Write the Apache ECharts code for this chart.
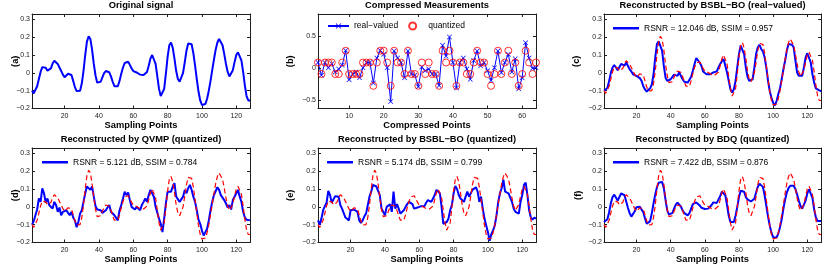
<!DOCTYPE html>
<html><head><meta charset="utf-8">
<script src="https://cdn.jsdelivr.net/npm/echarts@6/dist/echarts.min.js"></script>
<style>html,body{margin:0;padding:0;background:#fff}#c{width:822px;height:265px}</style>
</head><body><div id="c"></div>
<script>
// ---------------- data ----------------
const origSignal = [-0.10,-0.115,-0.105,-0.075,-0.035,0.005,0.032,0.038,0.028,0.012,
 0.010,0.025,0.052,0.068,0.066,0.050,0.030,0.010,-0.010,-0.025,
 -0.020,-0.005,0.000,-0.012,-0.045,-0.080,-0.102,-0.108,-0.100,-0.060,
 0.010,0.100,0.175,0.205,0.190,0.130,0.050,-0.015,-0.055,-0.063,
 -0.050,-0.025,-0.002,0.010,0.012,0.003,-0.020,-0.050,-0.075,-0.085,
 -0.075,-0.045,-0.005,0.030,0.055,0.065,0.062,0.045,0.025,0.010,
 0.005,0.002,-0.005,-0.010,-0.012,-0.012,-0.010,0.005,0.040,0.080,
 0.100,0.095,0.050,-0.020,-0.090,-0.130,-0.135,-0.090,-0.005,0.090,
 0.155,0.170,0.140,0.080,0.010,-0.035,-0.050,-0.040,0.000,0.060,
 0.125,0.165,0.175,0.160,0.110,0.040,-0.035,-0.105,-0.155,-0.180,
 -0.185,-0.175,-0.145,-0.100,-0.045,0.015,0.075,0.130,0.170,0.190,
 0.185,0.155,0.105,0.050,0.005,-0.020,-0.015,0.015,0.060,0.100,
 0.115,0.110,0.070,0.005,-0.070,-0.130,-0.155,-0.155];

const measReal = [0.09,-0.11,0.09,0.01,0.07,-0.06,-0.01,0.05,0.28,-0.18,
 -0.09,-0.06,-0.15,0.01,0.09,0.09,-0.23,0.16,0.28,0.22,
 0.01,-0.52,0.27,0.16,0.09,-0.15,0.27,-0.09,-0.11,-0.29,
 0.02,-0.04,-0.01,-0.09,-0.09,-0.27,0.36,0.19,0.49,0.09,
 -0.31,0.09,0.16,-0.01,-0.17,0.12,0.27,0.04,0.09,-0.04,
 -0.19,0.01,0.27,-0.07,0.09,0.22,-0.06,0.15,-0.32,-0.15,
 0.40,0.16,0.00,0.01];

const measQuant = [0.09,-0.09,0.09,0.09,0.09,-0.09,-0.09,0.09,0.275,-0.09,
 -0.09,-0.09,-0.09,0.09,0.09,0.09,-0.275,0.09,0.275,0.275,
 0.09,-0.275,0.275,0.09,0.09,-0.09,0.275,-0.09,-0.09,-0.275,
 0.09,-0.09,0.09,-0.09,-0.09,-0.275,0.275,0.09,0.275,0.09,
 -0.275,0.09,0.09,-0.09,-0.09,0.09,0.275,0.09,0.09,-0.09,
 -0.275,-0.09,0.275,-0.09,0.09,0.275,-0.09,0.09,-0.275,-0.09,
 0.275,0.09,-0.09,0.09];

const recBsblReal = [-0.100,-0.110,-0.085,-0.045,0.000,0.030,0.043,0.030,0.015,0.020,
 0.050,0.052,0.040,0.058,0.050,0.020,0.008,-0.008,-0.012,-0.017,
 -0.027,-0.030,-0.045,-0.075,-0.093,-0.105,-0.098,-0.087,-0.065,-0.008,
 0.087,0.162,0.177,0.166,0.125,0.040,-0.027,-0.045,-0.042,-0.036,
 -0.030,-0.010,-0.004,-0.017,0.002,-0.008,-0.036,-0.050,-0.055,-0.055,
 -0.045,-0.022,0.012,0.050,0.083,0.077,0.058,0.040,0.008,0.002,
 -0.008,-0.011,-0.008,-0.008,0.002,0.006,0.008,0.030,0.050,0.065,
 0.077,0.072,0.002,-0.045,-0.092,-0.110,-0.092,-0.045,0.030,0.105,
 0.153,0.153,0.105,0.030,-0.022,-0.045,-0.049,-0.036,0.030,0.105,
 0.143,0.157,0.134,0.120,0.087,0.030,-0.045,-0.102,-0.140,-0.168,
 -0.183,-0.158,-0.120,-0.087,-0.036,0.020,0.068,0.125,0.162,0.162,
 0.158,0.143,0.072,0.002,-0.017,-0.022,-0.017,0.030,0.087,0.110,
 0.100,0.058,-0.008,-0.055,-0.087,-0.087,-0.098,-0.105];

const recQvmp = [-0.100,-0.080,-0.047,-0.015,0.047,0.028,0.104,0.076,0.023,0.047,
 0.010,0.019,-0.010,0.028,0.010,-0.028,-0.004,-0.047,-0.028,-0.038,
 -0.019,-0.034,-0.047,-0.028,-0.060,-0.076,-0.114,-0.085,-0.038,-0.019,
 0.028,0.076,0.114,0.123,0.095,0.114,0.057,0.004,-0.015,-0.019,
 -0.019,-0.034,-0.038,-0.019,-0.004,0.010,-0.028,-0.038,-0.047,-0.053,
 -0.076,-0.019,0.010,0.047,0.085,0.066,0.080,0.038,0.000,0.010,
 -0.015,0.000,0.004,-0.019,0.010,0.028,0.047,0.028,0.066,0.095,
 0.104,0.057,0.000,-0.010,-0.066,-0.095,-0.142,-0.066,0.019,0.085,
 0.095,0.085,0.114,0.133,0.057,0.047,0.028,0.019,0.057,0.095,
 0.076,0.104,0.123,0.095,0.057,0.028,-0.019,-0.072,-0.095,-0.133,
 -0.161,-0.142,-0.123,-0.076,-0.019,0.028,0.066,0.076,0.110,0.095,
 0.066,0.076,0.038,0.019,-0.004,0.010,-0.015,0.038,0.057,0.076,
 0.095,0.057,0.028,-0.028,-0.060,-0.072,-0.080,-0.076];

const recBsblQuant = [-0.076,-0.100,-0.066,-0.019,0.004,0.023,0.090,0.066,0.023,0.019,
 0.060,0.064,0.057,0.010,-0.010,0.000,-0.060,-0.053,-0.076,-0.019,
 -0.010,-0.015,-0.015,-0.028,-0.076,-0.090,-0.076,-0.053,-0.038,-0.028,
 0.057,0.085,0.123,0.123,0.114,0.117,0.066,-0.010,-0.028,-0.047,
 0.000,-0.010,0.015,-0.028,0.085,-0.010,0.015,-0.010,-0.038,-0.038,
 -0.019,0.000,0.015,0.028,0.028,0.015,-0.010,-0.019,-0.004,0.000,
 0.004,0.000,0.004,0.023,0.038,0.034,0.028,0.047,0.066,0.095,
 0.104,0.076,0.000,-0.095,-0.100,-0.085,-0.066,-0.019,0.010,0.076,
 0.117,0.100,0.066,0.047,0.057,0.028,0.057,0.085,0.057,0.066,
 0.095,0.095,0.110,0.085,0.028,0.057,-0.010,-0.066,-0.104,-0.142,
 -0.190,-0.152,-0.133,-0.104,-0.047,0.028,0.076,0.104,0.152,0.085,
 0.095,0.076,0.085,0.028,-0.010,-0.028,-0.019,-0.038,0.028,0.066,
 0.123,0.136,0.066,-0.019,-0.060,-0.072,-0.060,-0.066];

const recBdq = [-0.085,-0.090,-0.070,-0.030,0.020,0.055,0.068,0.060,0.035,0.045,
 0.075,0.082,0.065,0.030,-0.005,-0.035,-0.055,-0.050,-0.025,-0.002,
 0.003,0.000,-0.008,-0.030,-0.065,-0.095,-0.105,-0.080,-0.035,0.020,
 0.070,0.110,0.135,0.145,0.140,0.105,0.040,-0.020,-0.042,-0.045,
 -0.035,-0.010,0.012,0.024,0.020,0.002,-0.020,-0.035,-0.045,-0.048,
 -0.035,-0.010,0.015,0.025,0.025,0.020,0.008,-0.005,-0.012,-0.012,
 -0.010,-0.010,-0.005,0.010,0.025,0.025,0.022,0.030,0.060,0.085,
 0.090,0.065,0.010,-0.050,-0.085,-0.095,-0.085,-0.050,0.000,0.055,
 0.090,0.100,0.085,0.055,0.042,0.040,0.030,0.035,0.045,0.080,
 0.112,0.130,0.135,0.112,0.065,0.005,-0.055,-0.105,-0.145,-0.170,
 -0.180,-0.172,-0.150,-0.115,-0.070,-0.010,0.040,0.080,0.105,0.118,
 0.122,0.118,0.100,0.070,0.035,0.005,-0.010,0.000,0.035,0.075,
 0.098,0.095,0.050,-0.015,-0.060,-0.080,-0.082,-0.080];

const titles = ['Original signal','Compressed Measurements','Reconstructed by BSBL\u2212BO (real\u2212valued)',
  'Reconstructed by QVMP (quantized)','Reconstructed by BSBL\u2212BO (quantized)','Reconstructed by BDQ (quantized)'];
const panelLabels = ['(a)','(b)','(c)','(d)','(e)','(f)'];
const xNames = ['Sampling Points','Compressed Points','Sampling Points','Sampling Points','Sampling Points','Sampling Points'];
const legendNames = ['RSNR = 12.046 dB, SSIM = 0.957','RSNR = 5.121 dB, SSIM = 0.784',
  'RSNR = 5.174 dB, SSIM = 0.799','RSNR = 7.422 dB, SSIM = 0.876'];
const measLegend = ['real\u2212valued','quantized'];
const xTicksSignal = [20,40,60,80,100,120];
const xTicksMeas = [10,20,30,40,50,60];
const yTicksSignal = [-0.2,-0.1,0,0.1,0.2,0.3];
const yTicksMeas = [-0.5,0,0.5];

// ---------------- layout ----------------
const FONT = 'Liberation Sans';
const AX = '#1e1e1e';
const gridPos = [
  {left:32, top:13.5, width:218, height:95},
  {left:318, top:13.5, width:218, height:95},
  {left:604, top:13.5, width:217, height:95},
  {left:32, top:148, width:218, height:94.5},
  {left:318, top:148, width:218, height:94.5},
  {left:604, top:148, width:217, height:94.5}
];
const yNameGap = [12, 23, 23, 12.5, 23.5, 21];
const minus = v => String(v).replace('-', '\u2212');

const xAxes = [], yAxes = [], series = [];
gridPos.forEach((g, i) => {
  const isMeas = i === 1;
  const xmax = isMeas ? 64 : 128;
  const xt = isMeas ? xTicksMeas : xTicksSignal;
  const yt = isMeas ? yTicksMeas : yTicksSignal;
  const ymin = isMeas ? -0.63 : -0.2;
  const ymax = isMeas ? 0.85 : 0.33;
  const line = {show:true, onZero:false, lineStyle:{color:AX, width:1}};
  const tick = vals => ({show:true, inside:true, length:3, customValues:vals, lineStyle:{color:AX, width:1}});
  xAxes.push({gridIndex:i, type:'value', min:1, max:xmax, position:'bottom',
    axisLine:line, axisTick:tick(xt), splitLine:{show:false},
    axisLabel:{customValues:xt, fontSize:7, margin:4, color:'#222', fontFamily:FONT},
    name:xNames[i], nameLocation:'middle', nameGap:12, nameMoveOverlap:false,
    nameTextStyle:{fontWeight:'bold', fontSize:9.3, color:'#000', fontFamily:FONT}});
  xAxes.push({gridIndex:i, type:'value', min:1, max:xmax, position:'top',
    axisLine:line, axisTick:tick(xt), splitLine:{show:false}, axisLabel:{show:false},
    name:titles[i], nameLocation:'middle', nameGap:4, nameMoveOverlap:false,
    nameTextStyle:{fontWeight:'bold', fontSize:9.3, color:'#000', fontFamily:FONT}});
  yAxes.push({gridIndex:i, type:'value', min:ymin, max:ymax, position:'left',
    axisLine:line, axisTick:tick(yt), splitLine:{show:false},
    axisLabel:{customValues:yt, fontSize:7, margin:2, color:'#222', fontFamily:FONT, formatter:minus},
    name:panelLabels[i], nameLocation:'middle', nameGap:yNameGap[i], nameMoveOverlap:false,
    nameTextStyle:{fontWeight:'bold', fontSize:9.3, color:'#000', fontFamily:FONT}});
  yAxes.push({gridIndex:i, type:'value', min:ymin, max:ymax, position:'right',
    axisLine:line, axisTick:tick(yt), splitLine:{show:false}, axisLabel:{show:false}});
});

const toXY = arr => arr.map((v, k) => [k + 1, v]);
const blueLine = (name, arr, i) => ({name, type:'line', data:toXY(arr), xAxisIndex:2*i, yAxisIndex:2*i,
  symbol:'none', showSymbol:false, lineStyle:{color:'#0000ff', width:2}, itemStyle:{color:'#0000ff'}, z:3});
const redDash = (arr, i) => ({name:'orig' + i, type:'line', data:toXY(arr), xAxisIndex:2*i, yAxisIndex:2*i,
  symbol:'none', showSymbol:false, lineStyle:{color:'#ff0000', width:1.2, type:[5,3]}, z:4});

series.push(blueLine('original', origSignal, 0));
const xPath = 'path://M1,0L5,4L9,0L10,1L6,5L10,9L9,10L5,6L1,10L0,9L4,5L0,1Z';
series.push({name:measLegend[0], type:'line', data:toXY(measReal), xAxisIndex:2, yAxisIndex:2,
  symbol:xPath, symbolSize:5, showSymbol:true, lineStyle:{color:'#0000ff', width:1},
  itemStyle:{color:'#0000ff'}, z:3});
series.push({name:measLegend[1], type:'scatter', data:toXY(measQuant), xAxisIndex:2, yAxisIndex:2,
  symbol:'circle', symbolSize:7, itemStyle:{color:'rgba(0,0,0,0)', borderColor:'#ff0000', borderWidth:1}, z:4});
const recs = [recBsblReal, recQvmp, recBsblQuant, recBdq];
[2,3,4,5].forEach((p, j) => {
  series.push(blueLine(legendNames[j], recs[j], p));
  series.push(redDash(origSignal, p));
});

const legendPos = [[613,23.75],[42,157.75],[327,157.75],[613,157.75]];
const legends = [{left:327, top:21.5, padding:0, itemWidth:21, itemHeight:7, itemGap:10,
  data:measLegend, selectedMode:false, textStyle:{fontSize:8.5, color:'#000', fontFamily:FONT}}];
legendNames.forEach((n, j) => legends.push({left:legendPos[j][0], top:legendPos[j][1], padding:0,
  icon:'rect', itemWidth:26, itemHeight:2.5, data:[n], selectedMode:false,
  textStyle:{fontSize:8.5, color:'#000', fontFamily:FONT}}));

const chart = echarts.init(document.getElementById('c'), null, {renderer:'canvas'});
chart.setOption({
  animation:false,
  textStyle:{fontFamily:FONT},
  grid:gridPos.map(g => Object.assign({containLabel:false}, g)),
  xAxis:xAxes, yAxis:yAxes, legend:legends, series
});
</script></body></html>
